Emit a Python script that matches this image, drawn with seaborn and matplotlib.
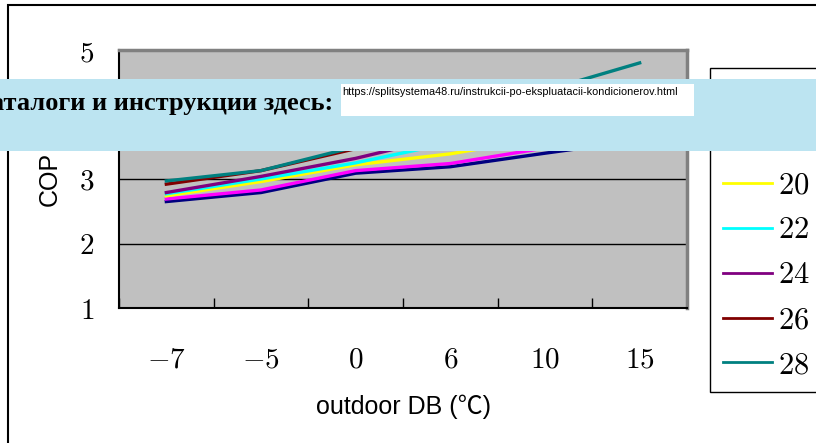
import matplotlib
matplotlib.use("Agg")
import matplotlib.pyplot as plt
from matplotlib.patches import Rectangle
import seaborn as sns
import pandas as pd

# outdoor dry bulb categories and COP per indoor temperature
outdoor = ["-7", "-5", "0", "6", "10", "15"]
indoor = ["16", "18", "20", "22", "24", "26", "28"]
cop_16 = [2.65, 2.79, 3.09, 3.19, 3.40, 3.60]
cop_18 = [2.69, 2.83, 3.13, 3.24, 3.48, 3.85]
cop_20 = [2.74, 2.96, 3.22, 3.39, 3.64, 4.00]
cop_22 = [2.77, 3.00, 3.25, 3.56, 3.80, 4.15]
cop_24 = [2.79, 3.04, 3.32, 3.67, 3.90, 4.25]
cop_26 = [2.92, 3.13, 3.47, 3.90, 4.20, 4.50]
cop_28 = [2.97, 3.13, 3.50, 3.95, 4.37, 4.80]
colors = ["#000080", "#FF00FF", "#FFFF00", "#00FFFF", "#800080", "#800000", "#008080"]

series = [cop_16, cop_18, cop_20, cop_22, cop_24, cop_26, cop_28]
rows = []
for t, vals in zip(indoor, series):
    for i, v in enumerate(vals):
        rows.append({"pos": i, "COP": v, "indoor": t})
df = pd.DataFrame(rows)

plt.rcParams["mathtext.fontset"] = "cm"

fig = plt.figure(figsize=(8.16, 4.43), dpi=100)
ax = fig.add_axes([119 / 816, 1 - 308 / 443, (687 - 119) / 816, (308 - 50) / 443])
ax.set_facecolor("#C0C0C0")

sns.lineplot(data=df, x="pos", y="COP", hue="indoor", palette=dict(zip(indoor, colors)),
             linewidth=2.4, sort=False, errorbar=None, legend="full", ax=ax)

ax.set_xlim(-0.5, 5.5)
ax.set_ylim(1, 5)
ax.set_xticks(range(len(outdoor)))
ax.set_xticklabels(["$%s$" % s for s in outdoor], fontsize=21)
ax.set_xticks([i - 0.5 for i in range(len(outdoor) + 1)], minor=True)
ax.tick_params(axis="x", which="major", length=0, pad=27)
ax.tick_params(axis="x", which="minor", direction="in", length=7.5, width=1, color="black")
ax.set_yticks([1, 2, 3, 4, 5])
ax.set_yticklabels(["$%d$" % v for v in [1, 2, 3, 4, 5]], fontsize=21)
ax.tick_params(axis="y", length=0, pad=18)
for y in [2, 3, 4]:
    ax.axhline(y, color="black", linewidth=1, zorder=1)

for side in ["top", "right"]:
    ax.spines[side].set_color("#808080")
    ax.spines[side].set_linewidth(2.5)
for side in ["left", "bottom"]:
    ax.spines[side].set_color("black")
    ax.spines[side].set_linewidth(1.5)

ax.set_xlabel("outdoor DB (℃)", fontsize=18,
              family=["Liberation Sans", "Noto Sans CJK SC"], labelpad=15)
ax.set_ylabel("COP", fontsize=18, family=["Liberation Sans", "DejaVu Sans"], labelpad=12)

handles, labels = ax.get_legend_handles_labels()
ax.get_legend().remove()
leg = fig.legend(handles, ["$%s$" % l for l in labels], loc="upper left",
                 bbox_to_anchor=(710 / 816, 1 - 68 / 443), fontsize=22,
                 frameon=True, fancybox=False, edgecolor="black", framealpha=1,
                 handlelength=1.6, handletextpad=0.22, labelspacing=0.52,
                 borderpad=0.42, borderaxespad=0)
leg.get_frame().set_linewidth(1)
for h in leg.get_lines():
    h.set_linewidth(2)

# outer chart frame
fig.patches.append(Rectangle((8 / 816, -0.1), 1.2, 1.1 - 5 / 443,
                             transform=fig.transFigure, fill=False,
                             edgecolor="black", linewidth=1.5, zorder=0))

# overlay banner
fig.patches.append(Rectangle((0, 1 - 151 / 443), 1, 72 / 443, transform=fig.transFigure,
                             facecolor="#BCE4F1", edgecolor="none", zorder=10))
fig.patches.append(Rectangle((341 / 816, 1 - 116 / 443), (694 - 341) / 816, 32 / 443,
                             transform=fig.transFigure, facecolor="white",
                             edgecolor="none", zorder=11))
fig.text(333 / 816, 1 - 110 / 443, "Каталоги и инструкции здесь:", ha="right",
         va="baseline", fontsize=19, fontweight="bold", family="Liberation Serif", zorder=12)
fig.text(342 / 816, 1 - 92 / 443,
         "https://splitsystema48.ru/instrukcii-po-ekspluatacii-kondicionerov.html",
         ha="left", va="center", fontsize=7.8, family="Liberation Sans", zorder=12)

fig.savefig("out.png", dpi=100)
